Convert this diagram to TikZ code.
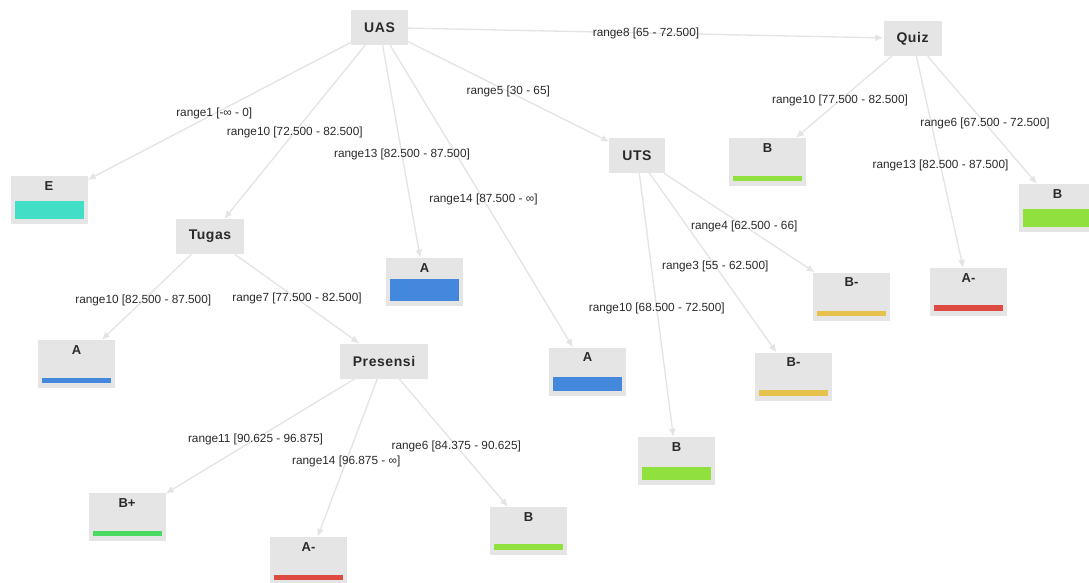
\documentclass[tikz,border=0pt]{standalone}
\usepackage{fontspec}
\setmainfont{Liberation Sans}
\newfontfamily\titlefont{Liberation Sans}[LetterSpace=4]
\usetikzlibrary{arrows.meta,calc}
\definecolor{boxgray}{HTML}{E5E5E5}
\definecolor{edgegray}{HTML}{E4E4E4}
\definecolor{textdark}{HTML}{2A2A2A}
\definecolor{gradeE}{HTML}{42DFC6}
\definecolor{gradeA}{HTML}{4388DD}
\definecolor{gradeB}{HTML}{90E13E}
\definecolor{gradeBplus}{HTML}{4CD962}
\definecolor{gradeBmin}{HTML}{E6C24C}
\definecolor{gradeAmin}{HTML}{DD4A40}
\tikzstyle{Title} = [fill=boxgray, inner xsep=13pt, minimum height=35pt, text=textdark, font=\titlefont\fontsize{14}{16}\selectfont\bfseries]
\tikzstyle{Leaf}  = [fill=boxgray, minimum width=77pt, inner ysep=5pt, text height=9pt, text depth=29pt, text=textdark, font=\fontsize{13}{15}\selectfont\bfseries]
\tikzstyle{Edge}  = [draw=edgegray, line width=1.3pt, -{Latex[length=8pt,width=7pt]}]
\tikzstyle{Range} = [inner sep=1pt, text=textdark, font=\fontsize{11.8}{13}\selectfont]
\tikzset{Bar/.style 2 args={path picture={
  \fill[#1] ([xshift=4pt,yshift=5pt]path picture bounding box.south west)
    rectangle ([xshift=-4pt,yshift=5pt+#2]path picture bounding box.south east);}}}

\begin{document}
\begin{tikzpicture}[x=1pt,y=-1pt]
    \useasboundingbox[fill=white] (0,0) rectangle (1089,583);
    % decision nodes
    \node[Title] (uas)      at (379.5,27.5) {UAS};
    \node[Title] (tugas)    at (210,236.5)  {Tugas};
    \node[Title] (presensi) at (384,361)    {Presensi};
    \node[Title] (uts)      at (637,155.5)  {UTS};
    \node[Title] (quiz)     at (912.5,38.5) {Quiz};
    % grade leaves
    \node[Leaf, Bar={gradeE}{18pt}]    (leafE)      at (49,200)     {E};
    \node[Leaf, Bar={gradeA}{22pt}]    (leafAuas)   at (424.5,282)  {A};
    \node[Leaf, Bar={gradeA}{14pt}]    (leafAuasb)  at (587.5,371.5) {A};
    \node[Leaf, Bar={gradeA}{5pt}]     (leafAtug)   at (76.5,364)   {A};
    \node[Leaf, Bar={gradeBplus}{5pt}] (leafBplus)  at (127,517)    {B+};
    \node[Leaf, Bar={gradeAmin}{5pt}]  (leafAminP)  at (308.5,561)  {A-};
    \node[Leaf, Bar={gradeB}{6pt}]     (leafBpres)  at (528.5,531)  {B};
    \node[Leaf, Bar={gradeB}{13pt}]    (leafButs)   at (676.5,461)  {B};
    \node[Leaf, Bar={gradeBmin}{5pt}]  (leafBminA)  at (851.5,296.5) {B-};
    \node[Leaf, Bar={gradeBmin}{6pt}]  (leafBminB)  at (793.5,376.5) {B-};
    \node[Leaf, Bar={gradeB}{5pt}]     (leafBquiz)  at (767.5,162)  {B};
    \node[Leaf, Bar={gradeAmin}{6pt}]  (leafAminQ)  at (968.5,292)  {A-};
    \node[Leaf, Bar={gradeB}{18pt}]    (leafBquizb) at (1057.5,208) {B};
    % UAS
    \draw[Edge] (uas) -- (leafE);
    \draw[Edge] (uas) -- (tugas);
    \draw[Edge] (uas) -- (leafAuas);
    \draw[Edge] (uas) -- (leafAuasb);
    \draw[Edge] (uas) -- (uts);
    \draw[Edge] (uas) -- (quiz);
    \node[Range] (r1) at ($(uas)!.5!(leafE)$)     {range1 [-∞ - 0]};
    \node[Range] (r2) at ($(uas)!.5!(tugas)$)     {range10 [72.500 - 82.500]};
    \node[Range] (r3) at ($(uas)!.5!(leafAuas)$)  {range13 [82.500 - 87.500]};
    \node[Range] (r4) at ($(uas)!.5!(leafAuasb)$) {range14 [87.500 - ∞]};
    \node[Range] (r5) at ($(uas)!.5!(uts)$)       {range5 [30 - 65]};
    \node[Range] (r6) at ($(uas)!.5!(quiz)$)      {range8 [65 - 72.500]};
    % Tugas
    \draw[Edge] (tugas) -- (leafAtug);
    \draw[Edge] (tugas) -- (presensi);
    \node[Range] (r7) at ($(tugas)!.5!(leafAtug)$) {range10 [82.500 - 87.500]};
    \node[Range] (r8) at ($(tugas)!.5!(presensi)$) {range7 [77.500 - 82.500]};
    % Presensi
    \draw[Edge] (presensi) -- (leafBplus);
    \draw[Edge] (presensi) -- (leafAminP);
    \draw[Edge] (presensi) -- (leafBpres);
    \node[Range] (r9)  at ($(presensi)!.5!(leafBplus)$) {range11 [90.625 - 96.875]};
    \node[Range] (r10) at ($(presensi)!.5!(leafAminP)$) {range14 [96.875 - ∞]};
    \node[Range] (r11) at ($(presensi)!.5!(leafBpres)$) {range6 [84.375 - 90.625]};
    % UTS
    \draw[Edge] (uts) -- (leafBminA);
    \draw[Edge] (uts) -- (leafBminB);
    \draw[Edge] (uts) -- (leafButs);
    \node[Range] (r12) at ($(uts)!.5!(leafBminA)$) {range4 [62.500 - 66]};
    \node[Range] (r13) at ($(uts)!.5!(leafBminB)$) {range3 [55 - 62.500]};
    \node[Range] (r14) at ($(uts)!.5!(leafButs)$)  {range10 [68.500 - 72.500]};
    % Quiz
    \draw[Edge] (quiz) -- (leafBquiz);
    \draw[Edge] (quiz) -- (leafAminQ);
    \draw[Edge] (quiz) -- (leafBquizb);
    \node[Range] (r15) at ($(quiz)!.5!(leafBquiz)$)  {range10 [77.500 - 82.500]};
    \node[Range] (r16) at ($(quiz)!.5!(leafAminQ)$)  {range13 [82.500 - 87.500]};
    \node[Range] (r17) at ($(quiz)!.5!(leafBquizb)$) {range6 [67.500 - 72.500]};
\end{tikzpicture}
\end{document}
